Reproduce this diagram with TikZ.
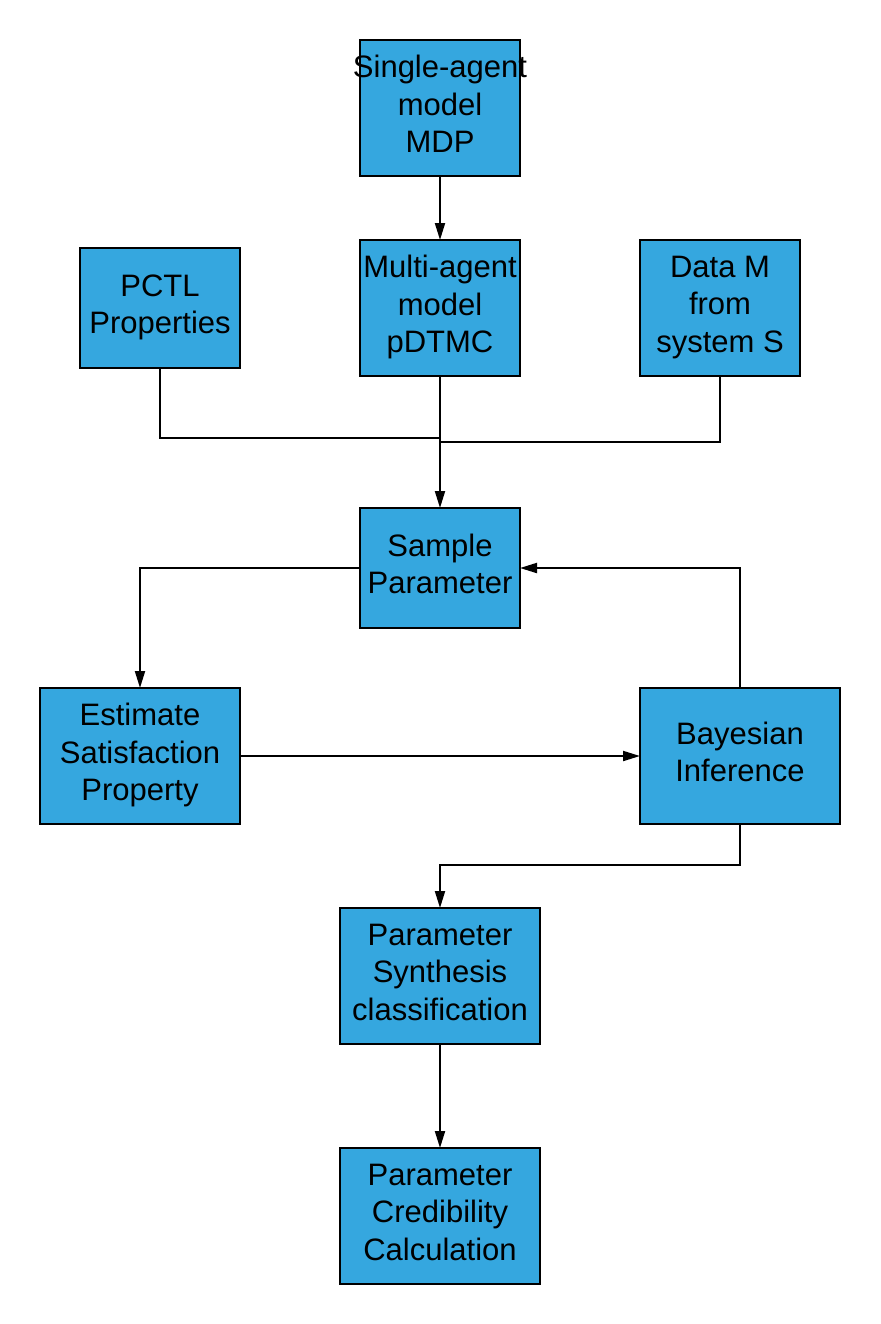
\documentclass[tikz,border=0pt]{standalone}
\usepackage{fontspec}
\setmainfont{Liberation Sans}
\usepackage{tikz}
\usetikzlibrary{
arrows.meta,
positioning,
calc
}
\definecolor{FlowBlue}{HTML}{35A7DF}
\definecolor{FlowInk}{HTML}{000000}
\tikzset{
flowbox/.style={draw=FlowInk, fill=FlowBlue, line width=1pt, align=center, inner sep=0pt,
  outer sep=0pt, text depth=4pt,
  minimum width=80pt, minimum height=68pt, font=\fontsize{15.5}{18.75}\selectfont},
flowboxshort/.style={flowbox, minimum height=60pt},
flowboxwide/.style={flowbox, minimum width=100pt},
flowline/.style={line width=1pt, draw=FlowInk},
flowarrow/.style={-{Triangle[length=8.5pt, width=5pt]}, line width=1pt, draw=FlowInk}
}
\begin{document}
\begin{tikzpicture}[node distance=32pt and 60pt]
\useasboundingbox (0,0) rectangle (440pt,-662pt);
\node[flowbox] (single) at (220pt,-54pt) {\makebox[0pt]{Single-agent}\\model\\MDP};
\node[flowbox, below=of single] (multi) {Multi-agent\\model\\pDTMC};
\node[flowboxshort, left=of multi] (pctl) {PCTL\\Properties};
\node[flowbox, right=of multi] (data) {Data M\\from\\system S};

\node[flowboxshort, below=66pt of multi] (sample) {Sample\\Parameter};
\node[flowboxwide, below left=30pt and 60pt of sample] (estimate) {Estimate\\Satisfaction\\Property};
\node[flowboxwide, below right=30pt and 60pt of sample] (bayes) {Bayesian\\Inference};

\node[flowboxwide, below=140pt of sample] (synth) {Parameter\\Synthesis\\classification};
\node[flowboxwide, below=52pt of synth] (cred) {Parameter\\Credibility\\Calculation};

\coordinate (joinl) at ($(multi.south)+(0,-31pt)$);
\coordinate (joinr) at ($(multi.south)+(0,-33pt)$);

\draw[flowarrow] (single) -- (multi);
\draw[flowline] (pctl.south) |- (joinl);
\draw[flowline] (data.south) |- (joinr);
\draw[flowarrow] (multi) -- (sample);
\draw[flowarrow] (sample.west) -| (estimate.north);
\draw[flowarrow] (bayes.north) |- (sample.east);
\draw[flowarrow] (estimate) -- (bayes);
\draw[flowarrow] (bayes.south) -- ++(0,-20.5pt) -| (synth.north);
\draw[flowarrow] (synth) -- (cred);
\end{tikzpicture}
\end{document}
